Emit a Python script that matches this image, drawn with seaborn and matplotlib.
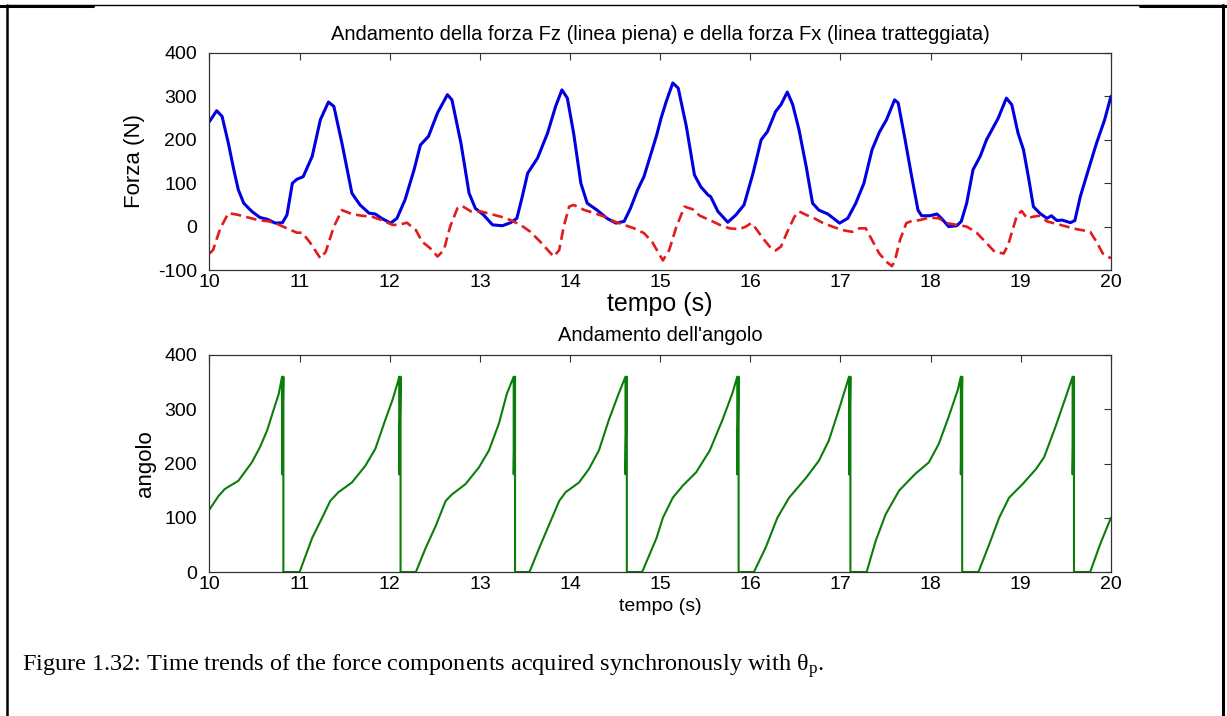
import matplotlib
matplotlib.use("Agg")
import matplotlib.pyplot as plt
import seaborn as sns
from matplotlib.lines import Line2D

# Fz (solid blue)
fz_time = [10.00, 10.08, 10.14, 10.21, 10.27, 10.32, 10.38, 10.47, 10.56, 10.64,
           10.73, 10.81, 10.86, 10.92, 10.97, 11.04, 11.14, 11.23, 11.32, 11.38,
           11.47, 11.58, 11.67, 11.77, 11.84, 11.91, 12.01, 12.08, 12.17, 12.27,
           12.34, 12.43, 12.53, 12.64, 12.69, 12.79, 12.88, 12.95, 13.04, 13.14,
           13.25, 13.34, 13.41, 13.47, 13.53, 13.64, 13.75, 13.84, 13.91, 13.97,
           14.04, 14.12, 14.19, 14.30, 14.41, 14.51, 14.60, 14.67, 14.75, 14.82,
           14.90, 14.96, 15.01, 15.07, 15.14, 15.20, 15.29, 15.38, 15.45, 15.53,
           15.56, 15.64, 15.75, 15.84, 15.93, 16.03, 16.12, 16.19, 16.28, 16.34,
           16.41, 16.47, 16.54, 16.62, 16.69, 16.76, 16.86, 16.99, 17.08, 17.17,
           17.26, 17.35, 17.43, 17.51, 17.60, 17.64, 17.71, 17.79, 17.86, 17.90,
           17.99, 18.07, 18.12, 18.20, 18.29, 18.34, 18.40, 18.47, 18.55, 18.62,
           18.75, 18.84, 18.90, 18.97, 19.03, 19.09, 19.14, 19.21, 19.29, 19.34,
           19.40, 19.46, 19.55, 19.60, 19.66, 19.75, 19.84, 19.93, 20.00]
fz_force = [242, 267, 254, 192, 131, 85, 54, 35, 21, 17,
            8, 9, 27, 100, 109, 115, 162, 246, 287, 277,
            192, 77, 50, 31, 29, 19, 8, 19, 62, 131,
            188, 208, 262, 304, 292, 192, 77, 42, 27, 4,
            2, 9, 19, 69, 123, 158, 215, 277, 315, 296,
            215, 100, 54, 38, 19, 8, 12, 42, 85, 115,
            169, 210, 250, 290, 331, 319, 231, 119, 92, 73,
            69, 35, 10, 27, 50, 123, 200, 219, 265, 281,
            310, 281, 223, 138, 54, 38, 29, 8, 19, 54,
            100, 177, 217, 246, 292, 285, 208, 115, 38, 25,
            25, 29, 19, 0, 2, 12, 54, 131, 162, 200,
            250, 296, 281, 215, 177, 108, 46, 31, 19, 25,
            14, 15, 9, 14, 69, 131, 192, 246, 300]

# Fx (dashed red)
fx_time = [10.00, 10.04, 10.12, 10.21, 10.32, 10.43, 10.54, 10.66, 10.75, 10.86,
           10.97, 11.03, 11.12, 11.23, 11.29, 11.38, 11.47, 11.58, 11.69, 11.80,
           11.91, 12.03, 12.10, 12.19, 12.29, 12.36, 12.45, 12.53, 12.60, 12.67,
           12.75, 12.80, 12.90, 13.01, 13.12, 13.23, 13.34, 13.45, 13.56, 13.67,
           13.77, 13.82, 13.88, 13.93, 13.99, 14.04, 14.16, 14.27, 14.38, 14.49,
           14.60, 14.71, 14.82, 14.91, 15.03, 15.10, 15.18, 15.27, 15.36, 15.44,
           15.55, 15.66, 15.77, 15.88, 15.95, 16.01, 16.06, 16.14, 16.23, 16.28,
           16.34, 16.41, 16.49, 16.54, 16.62, 16.71, 16.80, 16.91, 17.02, 17.13,
           17.21, 17.28, 17.35, 17.43, 17.51, 17.57, 17.60, 17.66, 17.73, 17.79,
           17.88, 17.99, 18.09, 18.18, 18.29, 18.40, 18.51, 18.62, 18.71, 18.81,
           18.86, 18.92, 18.96, 19.01, 19.07, 19.14, 19.21, 19.29, 19.40, 19.51,
           19.62, 19.70, 19.77, 19.84, 19.91, 20.00]
fx_force = [-62, -54, -4, 31, 27, 21, 15, 12, 6, -4,
            -14, -14, -38, -73, -58, 0, 38, 29, 25, 23,
            15, 4, 4, 9, -8, -35, -50, -69, -54, 0,
            42, 48, 35, 35, 29, 23, 15, 4, -12, -35,
            -58, -69, -54, 0, 46, 50, 38, 31, 23, 12,
            4, -4, -15, -35, -78, -54, 0, 46, 40, 25,
            15, 4, -4, -6, 0, 8, -4, -27, -50, -55,
            -46, -12, 23, 35, 27, 19, 9, 0, -8, -12,
            -4, -4, -31, -62, -81, -91, -81, -31, 8, 13,
            15, 21, 19, 8, 4, 0, -14, -38, -58, -62,
            -42, 0, 27, 36, 19, 23, 25, 12, 6, 0,
            -6, -9, -12, -35, -62, -73]

# crank angle (green), one line per revolution
ang_time = [10.00, 10.10, 10.17, 10.32, 10.47, 10.56, 10.64, 10.71, 10.77, 10.805, 10.805, 10.82, 10.82, 11.00,
            11.14, 11.25, 11.34, 11.43, 11.58, 11.73, 11.84, 11.95, 12.03, 12.09, 12.105, 12.105, 12.12, 12.12, 12.29,
            12.40, 12.51, 12.62, 12.69, 12.84, 12.99, 13.10, 13.21, 13.30, 13.375, 13.375, 13.39, 13.39, 13.55,
            13.66, 13.77, 13.88, 13.95, 14.10, 14.21, 14.32, 14.43, 14.54, 14.615, 14.615, 14.63, 14.63, 14.80,
            14.96, 15.03, 15.14, 15.25, 15.40, 15.55, 15.69, 15.80, 15.855, 15.855, 15.87, 15.87, 16.04,
            16.17, 16.30, 16.43, 16.62, 16.76, 16.87, 16.98, 17.06, 17.095, 17.095, 17.11, 17.11, 17.29,
            17.39, 17.50, 17.65, 17.83, 17.98, 18.09, 18.20, 18.30, 18.335, 18.335, 18.35, 18.35, 18.53,
            18.65, 18.76, 18.87, 19.02, 19.17, 19.26, 19.39, 19.50, 19.575, 19.575, 19.59, 19.59, 19.77,
            19.88, 20.00]
ang_value = [115, 140, 153, 168, 202, 230, 261, 298, 329, 360, 180, 360, 0, 0,
             63, 100, 131, 147, 165, 196, 227, 280, 317, 350, 360, 180, 360, 0, 0,
             45, 85, 131, 143, 162, 193, 224, 273, 329, 360, 180, 360, 0, 0,
             45, 88, 131, 147, 165, 190, 224, 280, 329, 360, 180, 360, 0, 0,
             63, 100, 137, 159, 184, 224, 280, 329, 360, 180, 360, 0, 0,
             45, 100, 137, 174, 205, 242, 298, 341, 360, 180, 360, 0, 0,
             57, 106, 150, 181, 202, 236, 286, 335, 360, 180, 360, 0, 0,
             51, 100, 137, 162, 190, 212, 270, 323, 360, 180, 360, 0, 0,
             51, 100]

time_ticks = [10, 11, 12, 13, 14, 15, 16, 17, 18, 19, 20]
force_ticks = [-100, 0, 100, 200, 300, 400]
angle_ticks = [0, 100, 200, 300, 400]

sns.set_style("white")
plt.rcParams['font.family'] = ['Liberation Sans', 'DejaVu Sans']
plt.rcParams['axes.unicode_minus'] = False
plt.rcParams['text.color'] = 'black'
plt.rcParams['axes.labelcolor'] = 'black'

fig = plt.figure(figsize=(12.27, 7.16), dpi=100)
ax1 = fig.add_axes([0.1707, 0.6229, 0.7347, 0.3031])
ax2 = fig.add_axes([0.1707, 0.2011, 0.7347, 0.3031])

sns.lineplot(x=fz_time, y=fz_force, ax=ax1, color='#0000e0', linewidth=2.2,
             estimator=None, sort=False)
sns.lineplot(x=fx_time, y=fx_force, ax=ax1, color='#e41a1c', linewidth=1.9,
             estimator=None, sort=False)
ax1.lines[-1].set_dashes((4, 2))
sns.lineplot(x=ang_time, y=ang_value, ax=ax2, color='#0b7d0b', linewidth=1.5,
             estimator=None, sort=False)

for ax in (ax1, ax2):
    ax.set_xlim(10, 20)
    ax.set_xticks(time_ticks)
    ax.tick_params(direction='in', top=True, right=True, length=5, width=0.8,
                   color='#333333', labelsize=14, labelcolor='black')
    ax.tick_params(axis='y', pad=9)
    ax.tick_params(axis='x', pad=3)
    for s in ax.spines.values():
        s.set_visible(True)
        s.set_color('#333333')
        s.set_linewidth(0.9)

ax1.set_ylim(-100, 400)
ax1.set_yticks(force_ticks)
ax2.set_ylim(0, 400)
ax2.set_yticks(angle_ticks)

ax1.set_title("Andamento della forza Fz (linea piena) e della forza Fx (linea tratteggiata)",
              fontsize=14.5, pad=9)
ax1.set_xlabel("tempo (s)", fontsize=18)
ax1.xaxis.set_label_coords(0.5, -0.1)
ax1.set_ylabel("Forza (N)", fontsize=16)
ax1.yaxis.set_label_coords(-0.0716, 0.5)

ax2.set_title("Andamento dell'angolo", fontsize=14.5, pad=10)
ax2.set_xlabel("tempo (s)", fontsize=14)
ax2.xaxis.set_label_coords(0.5, -0.118)
ax2.set_ylabel("angolo", fontsize=16)
ax2.yaxis.set_label_coords(-0.059, 0.5)

# caption under the plots
fig.text(22 / 1227, 1 - 671 / 716,
         r"Figure 1.32: Time trends of the force components acquired synchronously with $\mathregular{θ_p}$.",
         fontsize=17.5, family=['Liberation Serif', 'DejaVu Serif'], va='baseline', ha='left')

# page frame
fr = fig.transFigure
fig.add_artist(Line2D([0.0053, 0.0053], [0, 0.993], transform=fr, color='black', lw=1.8))
fig.add_artist(Line2D([0.9967, 0.9967], [0, 0.993], transform=fr, color='black', lw=2.2))
fig.add_artist(Line2D([0.0053, 0.9967], [0.993, 0.993], transform=fr, color='black', lw=1.0))
fig.add_artist(Line2D([0, 0.0758], [0.992, 0.992], transform=fr, color='black', lw=2.2))
fig.add_artist(Line2D([0.929, 1], [0.992, 0.992], transform=fr, color='black', lw=2.2))

fig.savefig('out.png', dpi=100)
